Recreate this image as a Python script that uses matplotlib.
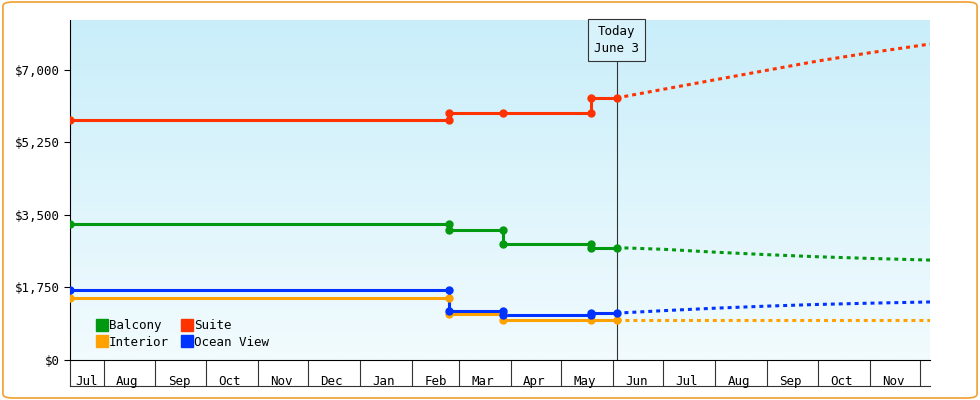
import numpy as np
import pandas as pd
import matplotlib.pyplot as plt
import matplotlib.dates as mdates
from matplotlib.patches import FancyBboxPatch
from matplotlib.colors import LinearSegmentedColormap

plt.rcParams['font.family'] = 'DejaVu Sans Mono'

# observed price steps (date, price)
step_dates = ['2012-07-12', '2013-02-23', '2013-03-27', '2013-05-19', '2013-06-03']
suite = [5800, 5950, 5950, 6320, 6320]
balcony = [3290, 3140, 2800, 2710, 2710]
ocean_view = [1690, 1180, 1090, 1130, 1130]
interior = [1500, 1110, 970, 970, 970]

# forecast
fc_dates = ['2013-06-03', '2013-07-01', '2013-08-01', '2013-09-01', '2013-10-01',
            '2013-11-01', '2013-12-07']
suite_fc = [6320, 6530, 6760, 6990, 7210, 7410, 7620]
balcony_fc = [2710, 2670, 2600, 2540, 2490, 2450, 2410]
ocean_fc = [1130, 1190, 1250, 1300, 1340, 1370, 1400]
interior_fc = [970, 970, 970, 970, 970, 970, 970]

series = [
    ('Balcony', '#00990f', balcony, balcony_fc),
    ('Interior', '#ffa200', interior, interior_fc),
    ('Suite', '#ff3300', suite, suite_fc),
    ('Ocean View', '#0033ff', ocean_view, ocean_fc),
]

fig = plt.figure(figsize=(9.8, 4.0), dpi=100)
fig.patches.append(FancyBboxPatch((0.003, 0.005), 0.994, 0.99, boxstyle='round,pad=0,rounding_size=0.01',
                                  transform=fig.transFigure, fc='none', ec='#f0a030', lw=1.2, zorder=10))
ax = fig.add_axes([70 / 980, 40 / 400, 860 / 980, 340 / 400])

x0 = mdates.date2num(pd.Timestamp('2012-07-12'))
x1 = mdates.date2num(pd.Timestamp('2013-12-07'))
grad = np.linspace(1, 0, 256).reshape(-1, 1)
ax.imshow(grad, extent=[x0, x1, 0, 8200], aspect='auto',
          cmap=LinearSegmentedColormap.from_list('bg', ['#f2fbfe', '#c9eefa']), zorder=0)

sd = pd.to_datetime(step_dates)
fd = pd.to_datetime(fc_dates)
for name, color, vals, fc in series:
    ax.step(sd, vals, where='post', color=color, lw=2.2, zorder=3)
    pts_x, pts_y = [], []
    for i, d in enumerate(sd):
        pts_x.append(d); pts_y.append(vals[i])
        if i > 0 and vals[i] != vals[i - 1]:
            pts_x.append(d); pts_y.append(vals[i - 1])
    ax.plot(pts_x, pts_y, 'o', color=color, ms=5, zorder=4, ls='none')
    ax.plot(fd, fc, color=color, lw=2.2, ls=(0, (1.3, 1.3)), zorder=3)
    ax.plot([], [], 's', color=color, ms=8, label=name)

today = pd.Timestamp('2013-06-03')
ax.axvline(today, color='#333333', lw=0.8, zorder=2)
ax.annotate('Today\nJune 3', xy=(mdates.date2num(today), 0.985), xycoords=('data', 'axes fraction'),
            ha='center', va='top', fontsize=9, linespacing=1.4,
            bbox=dict(boxstyle='square,pad=0.45', fc='#d8f2fb', ec='#333333', lw=0.8), zorder=5)

ax.set_xlim(x0, x1)
ax.set_ylim(0, 8200)
ax.set_yticks([0, 1750, 3500, 5250, 7000])
ax.set_yticklabels(['$0', '$1,750', '$3,500', '$5,250', '$7,000'], fontsize=9)

months = pd.date_range('2012-08-01', '2013-12-01', freq='MS')
ax.set_xticks(months)
ax.set_xticklabels([])
mids = [pd.Timestamp('2012-07-22')] + [m + pd.Timedelta(days=14) for m in months[:-1]]
labels = ['Jul'] + [m.strftime('%b') for m in months[:-1]]
for m, l in zip(mids, labels):
    ax.text(m, -0.045, l, transform=ax.get_xaxis_transform(), ha='center', va='top', fontsize=9)
ax.tick_params(axis='x', length=18.4, color='#333333', width=0.8)
ax.tick_params(axis='y', length=4)
ax.plot([0, 1], [-0.075, -0.075], transform=ax.transAxes, color='#333333', lw=0.8, clip_on=False)
ax.plot([0, 0], [-0.075, 0], transform=ax.transAxes, color='#333333', lw=0.8, clip_on=False)
for s in ['top', 'right']:
    ax.spines[s].set_visible(False)

ax.legend(loc='lower left', ncol=2, frameon=False, fontsize=9, handletextpad=0.0,
          columnspacing=0.8, labelspacing=0.3, bbox_to_anchor=(0.015, 0.0), handlelength=1.2)

fig.savefig('out.png', dpi=100)
